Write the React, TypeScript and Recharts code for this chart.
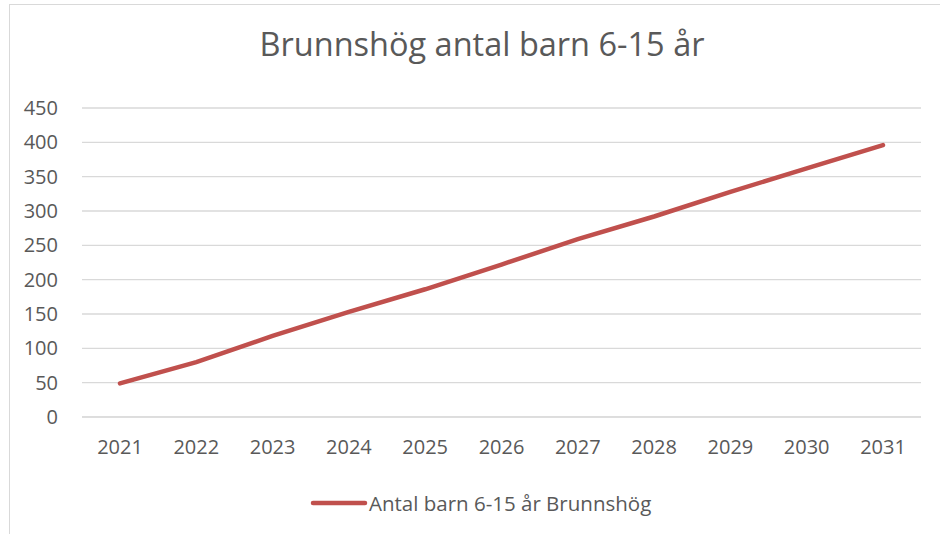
import { CartesianGrid, Legend, Line, LineChart, XAxis, YAxis } from "recharts";

const years = ["2021", "2022", "2023", "2024", "2025", "2026", "2027", "2028", "2029", "2030", "2031"];
const barn = [49, 80, 118, 153, 186, 222, 259, 292, 328, 362, 396];
const yTicks = [0, 50, 100, 150, 200, 250, 300, 350, 400, 450];

const seriesName = "Antal barn 6-15 år Brunnshög";
const font = "'Open Sans', 'Liberation Sans', sans-serif";
const grey = "#595959";

const data = years.map((y, i) => ({ year: y, barn: barn[i] }));

function LegendContent() {
  return (
    <div style={{ display: "flex", alignItems: "center", fontFamily: font, fontSize: 20.5, color: grey, whiteSpace: "nowrap" }}>
      <svg width={58} height={10} style={{ marginRight: 1 }}>
        <line x1={3} y1={5} x2={55} y2={5} stroke="#c0504d" strokeWidth={4.5} strokeLinecap="round" />
      </svg>
      {seriesName}
    </div>
  );
}

export default function App() {
  return (
    <div style={{ position: "absolute", left: 0, top: 0, width: 940, height: 534, overflow: "hidden", background: "#fff" }}>
      <div style={{ position: "absolute", left: 9, top: 4, width: 950, height: 560, border: "1px solid #d9d9d9" }} />
      <div
        style={{
          position: "absolute",
          left: 0,
          width: 964,
          top: 21,
          textAlign: "center",
          fontFamily: font,
          fontSize: 32.5,
          color: grey,
        }}
      >
        Brunnshög antal barn 6-15 år
      </div>
      <LineChart
        width={940}
        height={534}
        data={data}
        margin={{ top: 108, right: 19, left: 0, bottom: 49 }}
        style={{ position: "absolute", left: 0, top: 0 }}
      >
        <CartesianGrid vertical={false} stroke="#d9d9d9" strokeWidth={1.3} />
        <XAxis
          dataKey="year"
          height={40}
          padding={{ left: 38, right: 38 }}
          tickSize={0}
          tickMargin={23}
          stroke="#d9d9d9"
          tick={{ fill: grey, fontSize: 20, fontFamily: font }}
        />
        <YAxis
          width={82}
          domain={[0, 450]}
          ticks={yTicks}
          axisLine={false}
          tickLine={false}
          tickSize={0}
          tickMargin={24}
          tick={{ fill: grey, fontSize: 20, fontFamily: font }}
        />
        <Legend
          content={<LegendContent />}
          wrapperStyle={{ position: "absolute", left: 310, top: 489, width: "auto", bottom: "auto" }}
        />
        <Line
          dataKey="barn"
          name={seriesName}
          type="linear"
          stroke="#c0504d"
          strokeWidth={4.5}
          strokeLinecap="round"
          dot={false}
          isAnimationActive={false}
        />
      </LineChart>
    </div>
  );
}
